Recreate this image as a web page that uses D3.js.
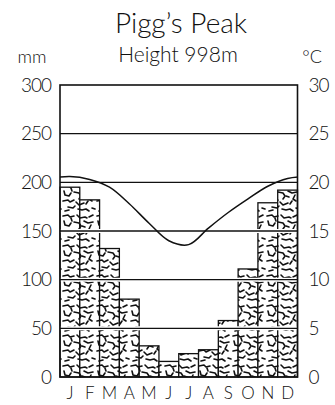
<!DOCTYPE html>
<html>
<head>
<meta charset="utf-8">
<script src="https://cdn.jsdelivr.net/npm/d3@7"></script>
<style>
  body { margin: 0; background: #fff; }
  text { font-family: Lato, "DejaVu Sans", sans-serif; fill: #111; }
</style>
</head>
<body>
<div id="chart"></div>
<script>
// climate data
var months = ["J","F","M","A","M","J","J","A","S","O","N","D"];
var rainfall = [195, 182, 132, 80, 32, 16, 24, 28, 58, 111, 179, 192];   // mm
var temperature = [20.6, 20.3, 19.5, 17.8, 15.8, 14.0, 13.6, 15.3, 16.9, 18.3, 19.6, 20.4]; // °C
var mmTicks = [0, 50, 100, 150, 200, 250, 300];
var tempTicks = [0, 5, 10, 15, 20, 25, 30];
var gridTicks = [50, 100, 150, 200, 250];

var width = 335, height = 405;
var plot = {left: 60, right: 297.5, top: 85, bottom: 377};

var svg = d3.select("#chart").append("svg")
    .attr("width", width)
    .attr("height", height);

// scribbly texture used inside the rain bars
var defs = svg.append("defs");
var pat = defs.append("pattern")
    .attr("id", "scribble")
    .attr("patternUnits", "userSpaceOnUse")
    .attr("x", 62).attr("y", 3)
    .attr("width", 34).attr("height", 30);
pat.append("rect").attr("width", 34).attr("height", 30).attr("fill", "#fff");
var strokes = [
  "M1,3 l5,-1 l2,2 l4,-1",
  "M15,2 l3,3 l5,-1 l2,1",
  "M27,4 l4,-2",
  "M2,8 l1,4 l4,1 l2,-3",
  "M12,9 l5,1 l2,3 l-2,3",
  "M22,8 l4,2 l5,-1",
  "M29,12 l-2,4 l3,2",
  "M1,18 l5,-1 l2,2 l4,-2",
  "M14,19 l3,3 l5,-2",
  "M24,21 l2,-3",
  "M6,24 l5,1 l2,-2",
  "M16,26 l4,1 l4,-1 l3,2",
  "M30,25 l3,1",
  "M9,5 l1,3",
  "M20,13 l3,1",
  "M3,28 l4,-1"
];
pat.selectAll("path").data(strokes).enter().append("path")
    .attr("d", function(d) { return d; })
    .attr("fill", "none")
    .attr("stroke", "#111")
    .attr("stroke-width", 1.6)
    .attr("stroke-linecap", "round")
    .attr("stroke-linejoin", "round");

var x = d3.scaleBand()
    .domain(d3.range(12))
    .range([plot.left, plot.right])
    .padding(0);

var y = d3.scaleLinear().domain([0, 300]).range([plot.bottom, plot.top]);
var yT = d3.scaleLinear().domain([0, 30]).range([plot.bottom, plot.top]);

// rain bars
svg.append("g").selectAll("rect")
    .data(rainfall)
    .enter().append("rect")
    .attr("x", function(d, i) { return x(i); })
    .attr("y", function(d) { return y(d); })
    .attr("width", x.bandwidth())
    .attr("height", function(d) { return y(0) - y(d); })
    .attr("fill", "url(#scribble)")
    .attr("stroke", "#111")
    .attr("stroke-width", 1.3);

// grid lines, with a white halo so they read through the texture
var grid = svg.append("g");
grid.selectAll("line.halo").data(gridTicks).enter().append("line")
    .attr("class", "halo")
    .attr("x1", plot.left).attr("x2", plot.right)
    .attr("y1", function(d) { return y(d); })
    .attr("y2", function(d) { return y(d); })
    .attr("stroke", "#fff").attr("stroke-width", 4);
grid.selectAll("line.grid").data(gridTicks).enter().append("line")
    .attr("class", "grid")
    .attr("x1", plot.left).attr("x2", plot.right)
    .attr("y1", function(d) { return y(d); })
    .attr("y2", function(d) { return y(d); })
    .attr("stroke", "#111").attr("stroke-width", 1.3);

// temperature curve (wraps Dec/Jan so it runs edge to edge)
svg.append("clipPath").attr("id", "clip")
  .append("rect")
    .attr("x", plot.left).attr("y", plot.top)
    .attr("width", plot.right - plot.left)
    .attr("height", plot.bottom - plot.top);

var tempPts = d3.range(-1, 13).map(function(i) {
  return [x(0) + (i + 0.5) * x.bandwidth(), yT(temperature[(i + 12) % 12])];
});

svg.append("path")
    .datum(tempPts)
    .attr("clip-path", "url(#clip)")
    .attr("fill", "none")
    .attr("stroke", "#111")
    .attr("stroke-width", 1.5)
    .attr("d", d3.line().curve(d3.curveCatmullRom.alpha(0.5)));

// frame
svg.append("rect")
    .attr("x", plot.left).attr("y", plot.top)
    .attr("width", plot.right - plot.left)
    .attr("height", plot.bottom - plot.top)
    .attr("fill", "none")
    .attr("stroke", "#111")
    .attr("stroke-width", 1.6);

// axes
var left = svg.append("g")
    .attr("transform", "translate(" + plot.left + ",0)")
    .call(d3.axisLeft(y).tickValues(mmTicks).tickSize(0).tickPadding(9));
var right = svg.append("g")
    .attr("transform", "translate(" + plot.right + ",0)")
    .call(d3.axisRight(yT).tickValues(tempTicks).tickSize(0).tickPadding(11));
var bottom = svg.append("g")
    .attr("transform", "translate(0," + plot.bottom + ")")
    .call(d3.axisBottom(x).tickFormat(function(i) { return months[i]; }).tickSize(0).tickPadding(10));

[left, right, bottom].forEach(function(g) {
  g.select(".domain").remove();
  g.selectAll("text")
    .style("font-family", "Lato, 'DejaVu Sans', sans-serif")
    .style("font-weight", 300)
    .attr("fill", "#111");
});
left.selectAll("text").style("font-size", "19px").style("letter-spacing", "-1px");
right.selectAll("text").style("font-size", "19px").style("letter-spacing", "-1px");
bottom.selectAll("text").style("font-size", "17px");

// titles
svg.append("text")
    .attr("x", 181).attr("y", 33)
    .attr("text-anchor", "middle")
    .style("font-size", "28px").style("font-weight", 300)
    .text("Pigg\u2019s Peak");
svg.append("text")
    .attr("x", 178).attr("y", 62)
    .attr("text-anchor", "middle")
    .style("font-size", "21px").style("font-weight", 300)
    .text("Height 998m");
svg.append("text")
    .attr("x", 32).attr("y", 63)
    .attr("text-anchor", "middle")
    .style("font-size", "18px").style("font-weight", 300)
    .text("mm");
svg.append("text")
    .attr("x", 312).attr("y", 63)
    .attr("text-anchor", "middle")
    .style("font-size", "18px").style("font-weight", 300)
    .text("\u00B0C");
</script>
</body>
</html>
